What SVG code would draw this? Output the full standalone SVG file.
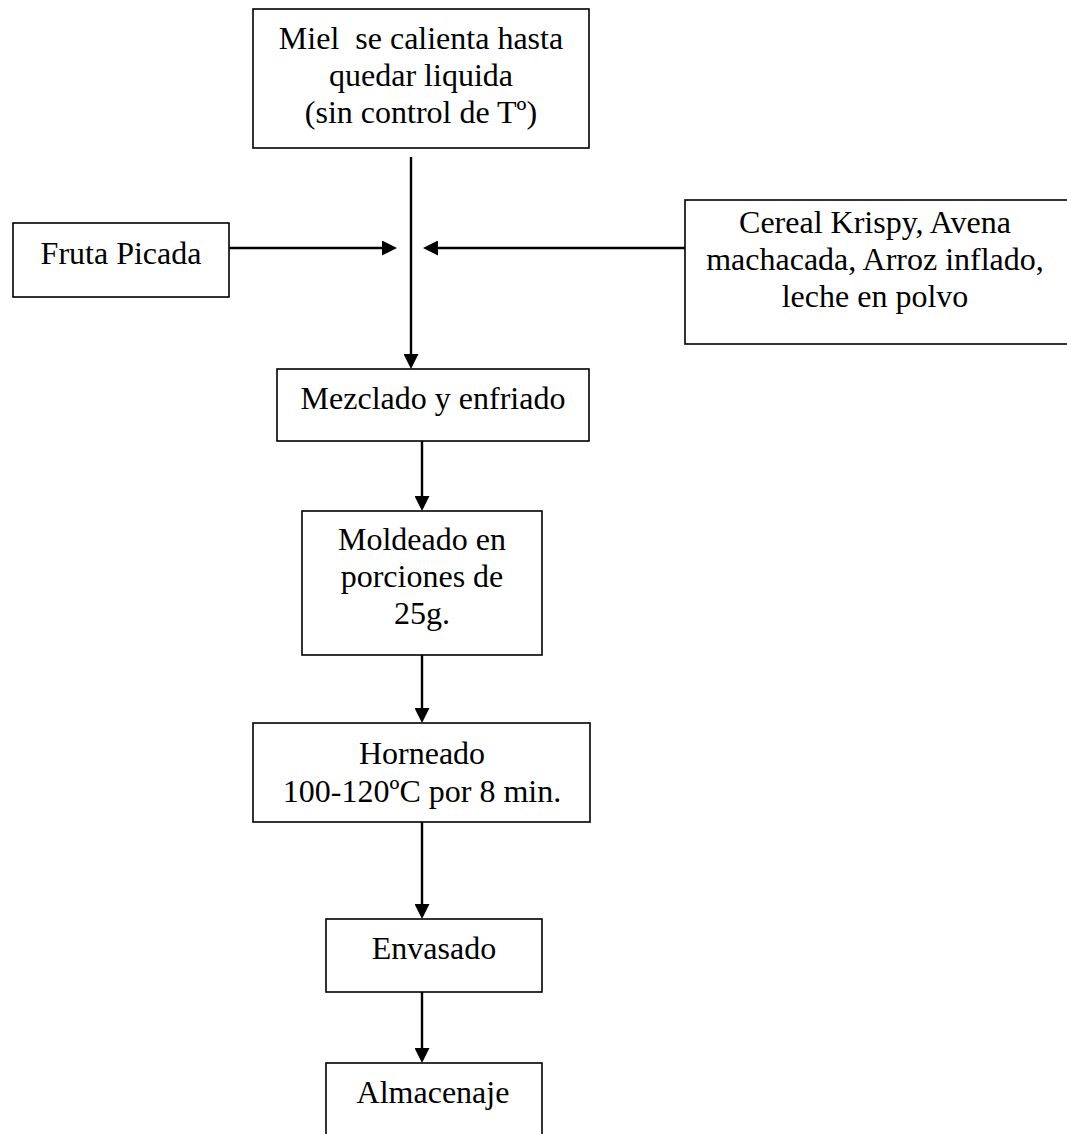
<svg xmlns="http://www.w3.org/2000/svg" width="1067" height="1134" viewBox="0 0 1067 1134">
<style>
.box{fill:#fff;stroke:#000;stroke-width:1.6}
.t{font-family:"Liberation Serif","Times New Roman",serif;font-size:32px;fill:#000;text-anchor:middle;white-space:pre}
.c{stroke:#000;stroke-width:2.4;fill:none}
</style>
<defs>
<marker id="arr" markerWidth="15" markerHeight="15" refX="2" refY="7.5" orient="auto" markerUnits="userSpaceOnUse">
<path d="M0,0 L15,7.5 L0,15 z" fill="#000"/>
</marker>
</defs>
<rect width="1067" height="1134" fill="#fff"/>
<g id="connectors">
<path class="c" d="M411,157 V356" marker-end="url(#arr)"/>
<path class="c" d="M229,248 H384" marker-end="url(#arr)"/>
<path class="c" d="M685,248 H436" marker-end="url(#arr)"/>
<path class="c" d="M422,441 V498" marker-end="url(#arr)"/>
<path class="c" d="M422,655 V710" marker-end="url(#arr)"/>
<path class="c" d="M422,822 V906" marker-end="url(#arr)"/>
<path class="c" d="M422,992 V1050" marker-end="url(#arr)"/>
</g>
<g id="miel">
<rect class="box" x="253" y="9" width="336" height="139"/>
<text class="t" x="421" y="49" xml:space="preserve">Miel  se calienta hasta</text>
<text class="t" x="421" y="86">quedar liquida</text>
<text class="t" x="421" y="123">(sin control de Tº)</text>
</g>
<g id="fruta">
<rect class="box" x="13" y="223" width="216" height="74"/>
<text class="t" x="121" y="264">Fruta Picada</text>
</g>
<g id="cereal">
<rect class="box" x="685" y="200" width="390" height="144"/>
<text class="t" x="875" y="233">Cereal Krispy, Avena</text>
<text class="t" x="875" y="270">machacada, Arroz inflado,</text>
<text class="t" x="875" y="307">leche en polvo</text>
</g>
<g id="mezclado">
<rect class="box" x="277" y="369" width="312" height="72"/>
<text class="t" x="433" y="409">Mezclado y enfriado</text>
</g>
<g id="moldeado">
<rect class="box" x="302" y="511" width="240" height="144"/>
<text class="t" x="422" y="550">Moldeado en</text>
<text class="t" x="422" y="587">porciones de</text>
<text class="t" x="422" y="624">25g.</text>
</g>
<g id="horneado">
<rect class="box" x="253" y="723" width="337" height="99"/>
<text class="t" x="422" y="764">Horneado</text>
<text class="t" x="422" y="802">100-120ºC por 8 min.</text>
</g>
<g id="envasado">
<rect class="box" x="326" y="919" width="216" height="73"/>
<text class="t" x="434" y="959">Envasado</text>
</g>
<g id="almacenaje">
<rect class="box" x="326" y="1063" width="216" height="100"/>
<text class="t" x="433" y="1103">Almacenaje</text>
</g>
</svg>
